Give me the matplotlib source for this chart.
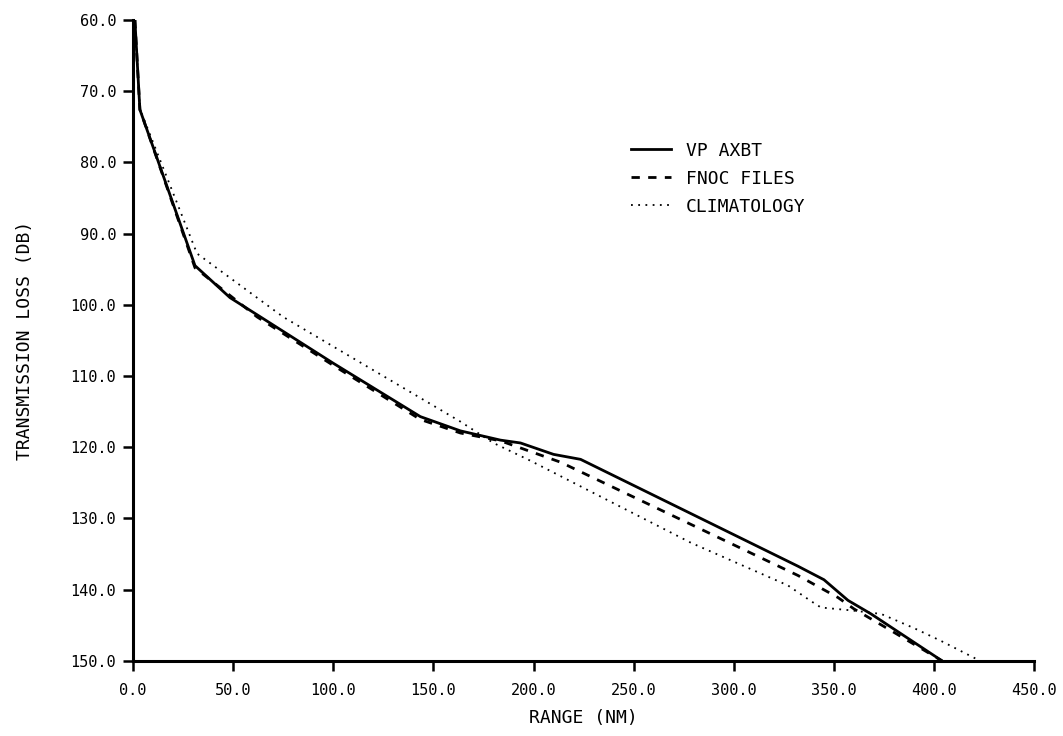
import matplotlib
matplotlib.use("Agg")
import matplotlib.pyplot as plt
import numpy as np

# range (NM) / transmission loss (dB)
vp_rng = [1, 3.5, 31, 48.5, 62, 100, 143.5, 163.5, 183.5, 193.5, 210, 223.5,
          332, 345, 357, 368.5, 404]
vp_tl = [60, 72.6, 94.5, 99.0, 101.4, 108.2, 115.7, 117.7, 119.0, 119.4, 121.0, 121.7,
         136.7, 138.6, 141.5, 143.4, 150]

fnoc_rng = [1, 3.5, 31, 62, 100, 143.5, 163.5, 183.5, 213.5, 332, 352, 360, 377, 404]
fnoc_tl = [60, 72.6, 94.8, 101.7, 108.5, 116.1, 118.0, 119.1, 122.1, 138.0, 141.1,
           142.7, 145.5, 150]

clim_rng = [1, 3.5, 32, 75, 163.5, 180, 198.5, 278.5, 327, 338.5, 343.5, 358.5,
            373.5, 390, 403.5, 423]
clim_tl = [60, 72.5, 92.8, 101.7, 116.4, 119.4, 121.9, 133.4, 139.4, 141.6, 142.5,
           142.9, 143.4, 145.4, 147.2, 150]

xticks = np.arange(0, 451, 50)
yticks = np.arange(60, 151, 10)

fnt = "DejaVu Sans Mono"

fig = plt.figure(figsize=(10.63, 7.36), dpi=100)
ax = fig.add_axes([0.125, 0.102, 0.848, 0.871])

ax.plot(vp_rng, vp_tl, color="k", lw=2.0, label="VP AXBT")
ax.plot(fnoc_rng, fnoc_tl, color="k", lw=2.0, ls=(0, (3, 3)), label="FNOC FILES")
ax.plot(clim_rng, clim_tl, color="k", lw=1.3, ls=(0, (1, 3)), label="CLIMATOLOGY")

ax.set_xlim(0, 450)
ax.set_ylim(150, 60)
ax.set_xticks(xticks)
ax.set_yticks(yticks)
ax.set_xticklabels(["%.1f" % v for v in xticks], fontfamily=fnt, fontsize=11)
ax.set_yticklabels(["%.1f" % v for v in yticks], fontfamily=fnt, fontsize=11)

for s in ("top", "right"):
    ax.spines[s].set_visible(False)
for s in ("left", "bottom"):
    ax.spines[s].set_linewidth(2.2)
ax.tick_params(direction="out", length=7, width=1.8)
ax.tick_params(axis="x", pad=9)
ax.tick_params(axis="y", pad=5)

ax.set_xlabel("RANGE (NM)", fontfamily=fnt, fontsize=13, labelpad=8)
ax.set_ylabel("TRANSMISSION LOSS (DB)", fontfamily=fnt, fontsize=13, labelpad=26)

leg = ax.legend(loc="upper left", bbox_to_anchor=(0.553, 0.81), frameon=False,
                handlelength=2.2, handletextpad=0.8, labelspacing=0.55,
                borderpad=0, borderaxespad=0,
                prop={"family": fnt, "size": 13})

plt.savefig("out.png", dpi=100)
